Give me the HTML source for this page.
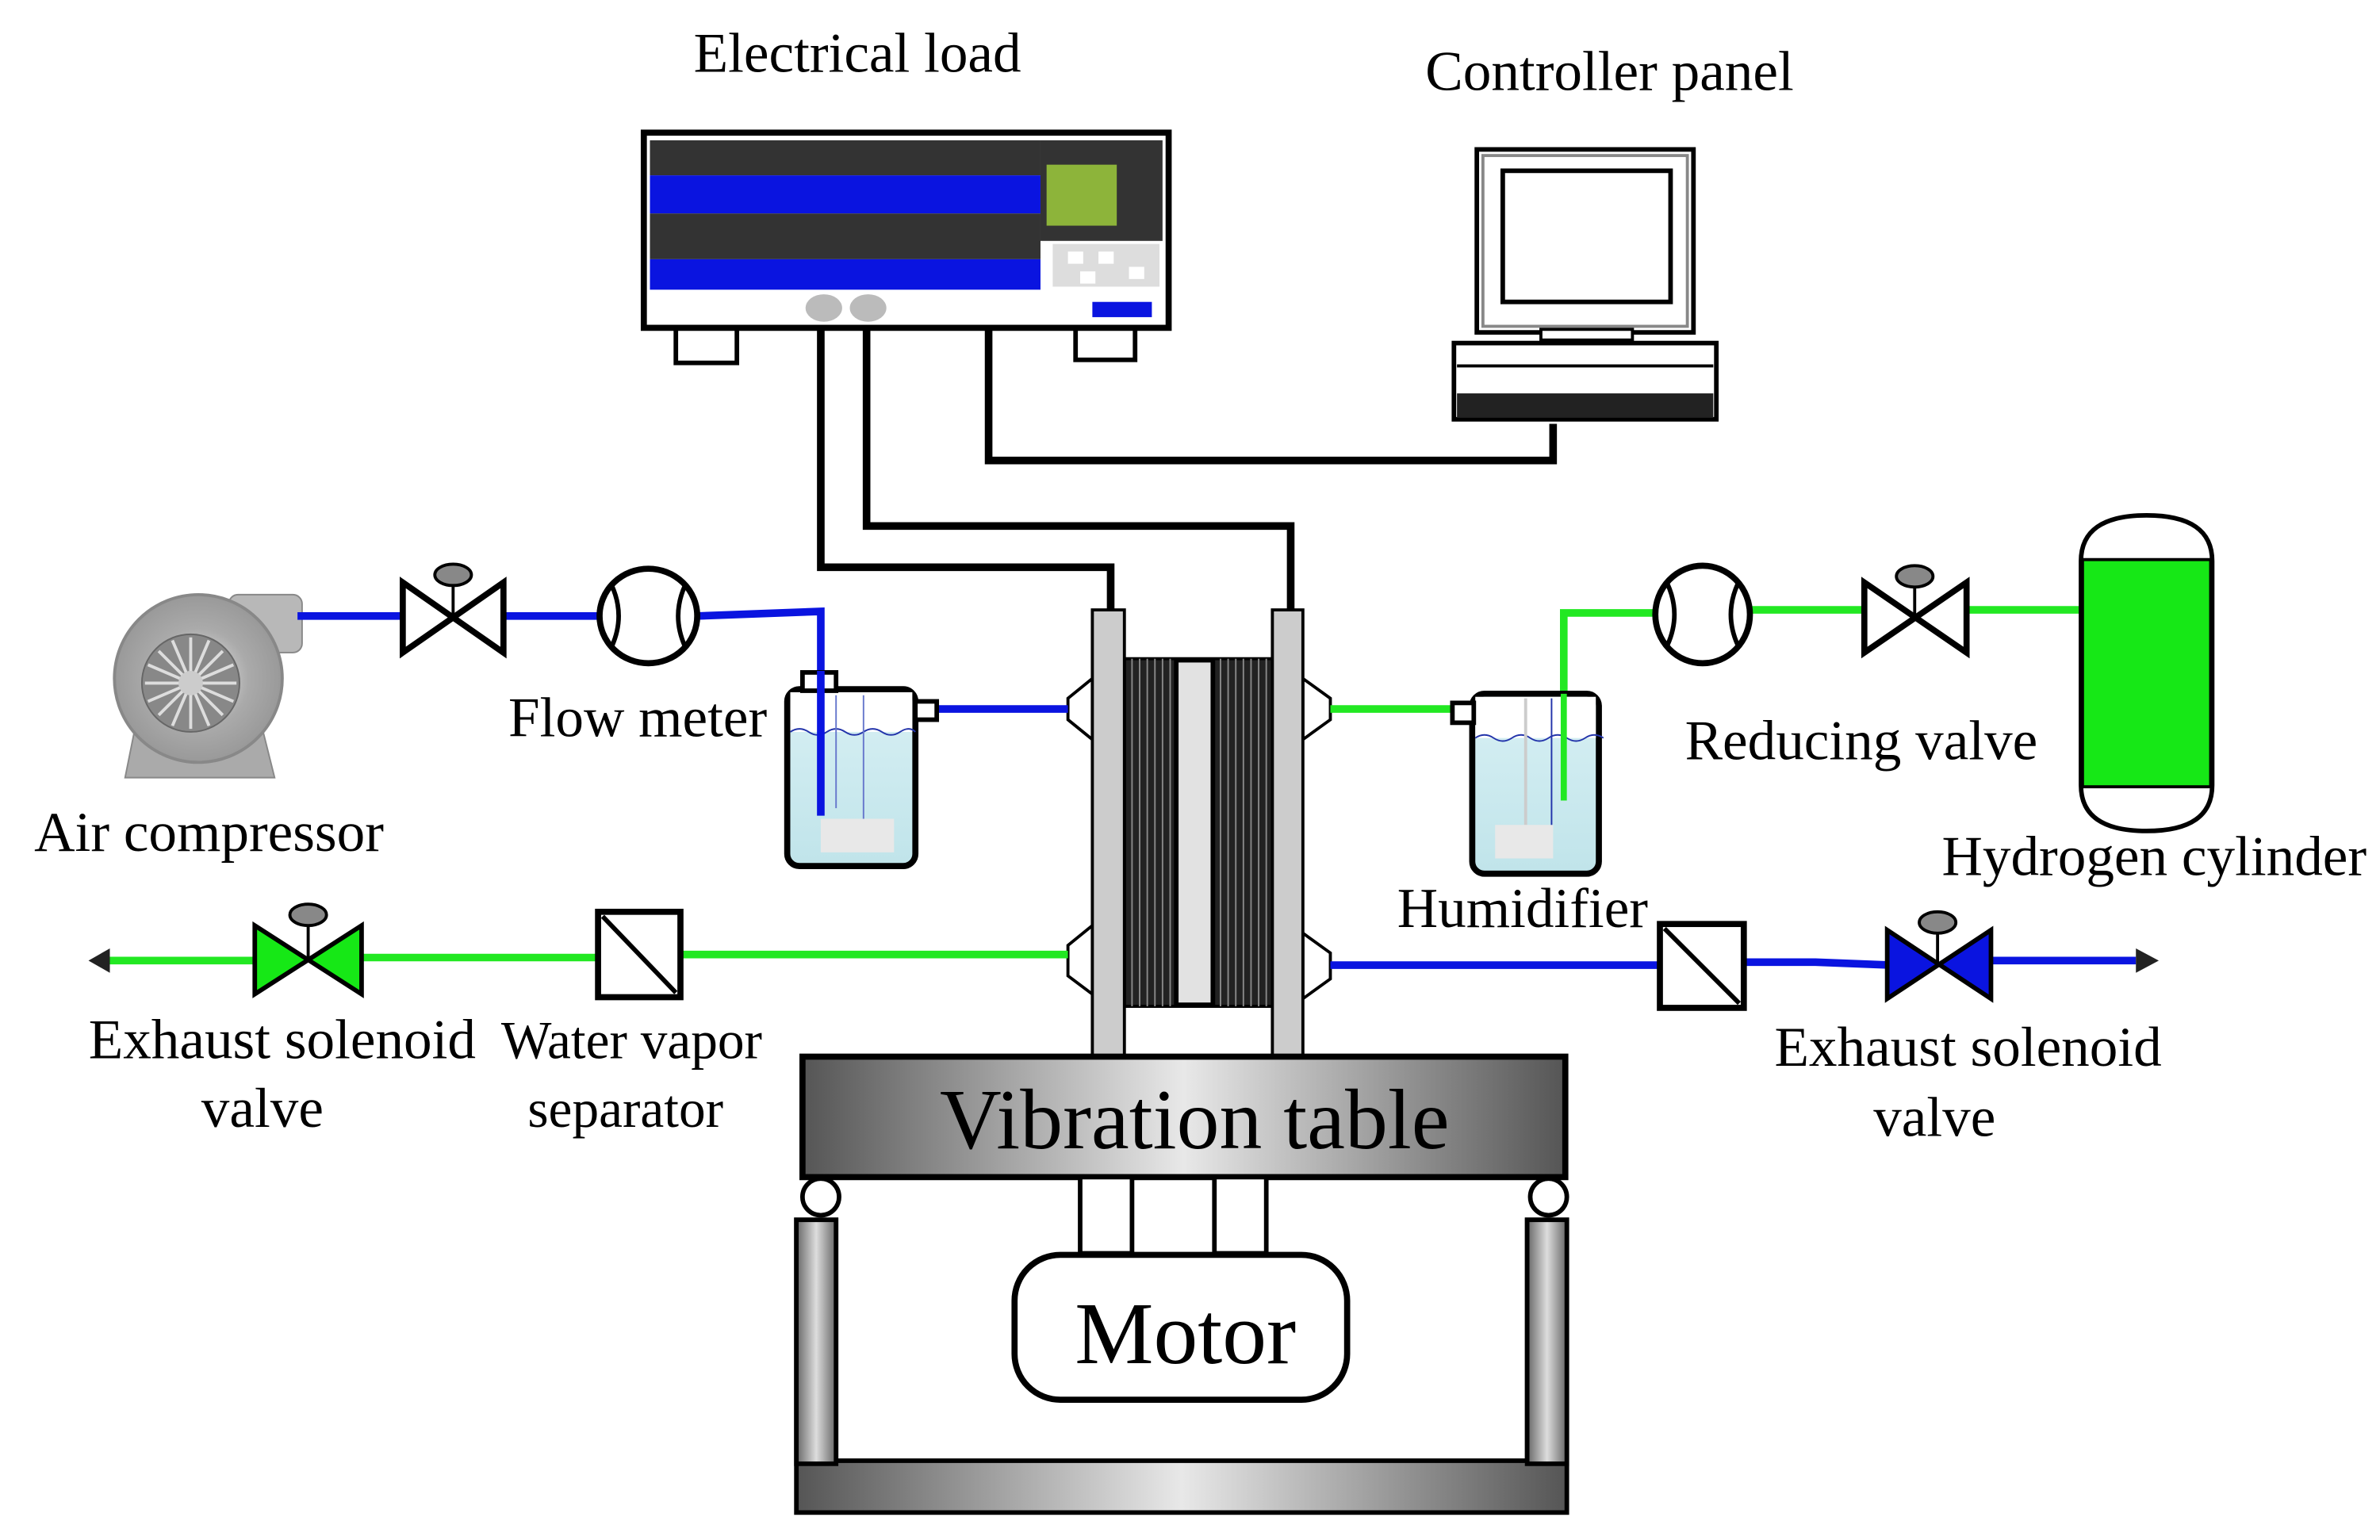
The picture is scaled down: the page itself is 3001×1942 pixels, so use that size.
<!DOCTYPE html>
<html><head><meta charset="utf-8"><style>
html,body{margin:0;padding:0;background:#fff;}
svg{display:block;}
text{font-family:"Liberation Serif",serif;fill:#000;}
</style></head><body>
<svg width="3001" height="1942" viewBox="0 0 1560 1010" preserveAspectRatio="none" xmlns="http://www.w3.org/2000/svg">
<defs>
<linearGradient id="gh" x1="0" y1="0" x2="1" y2="0">
<stop offset="0" stop-color="#555"/><stop offset="0.5" stop-color="#e8e8e8"/><stop offset="1" stop-color="#555"/></linearGradient>
<linearGradient id="gv" x1="0" y1="0" x2="1" y2="0">
<stop offset="0" stop-color="#666"/><stop offset="0.5" stop-color="#ddd"/><stop offset="1" stop-color="#666"/></linearGradient>
<linearGradient id="water" x1="0" y1="0" x2="0" y2="1">
<stop offset="0" stop-color="#d8f0f4"/><stop offset="1" stop-color="#c0e4ea"/></linearGradient>
<radialGradient id="comp" cx="0.5" cy="0.5" r="0.5"><stop offset="0" stop-color="#eee"/><stop offset="0.6" stop-color="#aaa"/><stop offset="1" stop-color="#999"/></radialGradient>
</defs>

<!-- Electrical load -->
<text x="562" y="47" font-size="37" text-anchor="middle">Electrical load</text>
<rect x="443" y="213" width="40" height="25" fill="#fff" stroke="#000" stroke-width="3"/>
<rect x="705" y="213" width="39" height="23" fill="#fff" stroke="#000" stroke-width="3"/>
<rect x="422" y="87" width="344" height="128" fill="#fff" stroke="#000" stroke-width="4"/>
<rect x="426" y="92" width="256" height="23" fill="#333"/>
<rect x="426" y="115" width="256" height="25" fill="#0a14e0"/>
<rect x="426" y="140" width="256" height="30" fill="#333"/>
<rect x="426" y="170" width="256" height="20" fill="#0a14e0"/>
<rect x="682" y="92" width="80" height="66" fill="#333"/>
<rect x="686" y="108" width="46" height="40" fill="#8db43a"/>
<rect x="690" y="160" width="70" height="28" fill="#ddd"/>
<rect x="700" y="165" width="10" height="8" fill="#fff"/><rect x="720" y="165" width="10" height="8" fill="#fff"/><rect x="740" y="175" width="10" height="8" fill="#fff"/><rect x="708" y="178" width="10" height="8" fill="#fff"/>
<rect x="716" y="198" width="39" height="10" fill="#0a14e0"/>
<ellipse cx="540" cy="202" rx="12" ry="9" fill="#bbb"/>
<ellipse cx="569" cy="202" rx="12" ry="9" fill="#bbb"/>

<!-- Controller panel -->
<text x="1055" y="59" font-size="37" text-anchor="middle">Controller panel</text>
<rect x="968" y="98" width="142" height="120" fill="#fff" stroke="#000" stroke-width="3"/>
<rect x="972" y="102" width="134" height="112" fill="none" stroke="#888" stroke-width="2"/>
<rect x="985" y="112" width="110" height="86" fill="#fff" stroke="#000" stroke-width="3"/>
<rect x="1010" y="216" width="60" height="7" fill="#fff" stroke="#000" stroke-width="2"/>
<rect x="953" y="225" width="172" height="50" fill="#fff" stroke="#000" stroke-width="3"/>
<line x1="955" y1="240" x2="1123" y2="240" stroke="#000" stroke-width="2"/>
<rect x="955" y="258" width="168" height="16" fill="#222"/>

<!-- wires -->
<g fill="none" stroke="#000" stroke-width="5">
<polyline points="538,215 538,372 728,372 728,402"/>
<polyline points="568,215 568,345 846,345 846,402"/>
<polyline points="648,215 648,302 1018,302 1018,278"/>
</g>

<!-- Stack ports -->
<g fill="#fff" stroke="#000" stroke-width="2">
<polygon points="716,445 700,458 700,472 716,485"/>
<polygon points="716,607 700,620 700,640 716,652"/>
<polygon points="854,445 872,458 872,472 854,485"/>
<polygon points="854,612 872,625 872,642 854,655"/>
</g>
<!-- Stack -->
<rect x="737" y="432" width="97" height="228" fill="#222" stroke="#000" stroke-width="2"/>
<g stroke="#888" stroke-width="1">
<line x1="742" y1="432" x2="742" y2="660"/><line x1="747" y1="432" x2="747" y2="660"/><line x1="752" y1="432" x2="752" y2="660"/><line x1="757" y1="432" x2="757" y2="660"/><line x1="762" y1="432" x2="762" y2="660"/><line x1="767" y1="432" x2="767" y2="660"/>
<line x1="800" y1="432" x2="800" y2="660"/><line x1="805" y1="432" x2="805" y2="660"/><line x1="810" y1="432" x2="810" y2="660"/><line x1="815" y1="432" x2="815" y2="660"/><line x1="820" y1="432" x2="820" y2="660"/><line x1="825" y1="432" x2="825" y2="660"/><line x1="830" y1="432" x2="830" y2="660"/>
</g>
<rect x="771" y="433" width="24" height="226" fill="#e2e2e2" stroke="#000" stroke-width="3"/>
<rect x="716" y="400" width="21" height="294" fill="#ccc" stroke="#000" stroke-width="2"/>
<rect x="834" y="400" width="20" height="294" fill="#ccc" stroke="#000" stroke-width="2"/>

<!-- Air compressor -->
<rect x="150" y="390" width="48" height="38" rx="6" fill="#b8b8b8" stroke="#888"/>
<path d="M82,510 L90,470 L170,470 L180,510 Z" fill="#aaa" stroke="#888"/>
<circle cx="130" cy="445" r="55" fill="url(#comp)" stroke="#888" stroke-width="2"/>
<circle cx="125" cy="448" r="32" fill="#888" stroke="#666"/>
<g stroke="#ddd" stroke-width="2">
<line x1="125" y1="418" x2="125" y2="478"/><line x1="95" y1="448" x2="155" y2="448"/><line x1="104" y1="427" x2="146" y2="469"/><line x1="104" y1="469" x2="146" y2="427"/>
<line x1="113" y1="420" x2="137" y2="476"/><line x1="137" y1="420" x2="113" y2="476"/><line x1="97" y1="436" x2="153" y2="460"/><line x1="97" y1="460" x2="153" y2="436"/>
</g>
<circle cx="125" cy="448" r="8" fill="#ccc"/>
<text x="137" y="558" font-size="37" text-anchor="middle">Air compressor</text>

<!-- Air line -->
<g fill="none" stroke="#0a14e0" stroke-width="5">
<line x1="195" y1="404" x2="264" y2="404"/>
<line x1="330" y1="404" x2="394" y2="404"/>
<polyline points="457,404 538,401 538,535"/>
<line x1="614" y1="465" x2="700" y2="465"/>
</g>
<polygon points="264,382 264,428 330,382 330,428" fill="#fff" stroke="#000" stroke-width="4"/>
<line x1="297" y1="380" x2="297" y2="405" stroke="#000" stroke-width="2"/>
<ellipse cx="297" cy="377" rx="12" ry="7" fill="#888" stroke="#000" stroke-width="2"/>
<ellipse cx="425" cy="404" rx="32" ry="31" fill="#fff" stroke="#000" stroke-width="4"/>
<path d="M401,384 Q410,404 401,424" fill="none" stroke="#000" stroke-width="3"/>
<path d="M449,384 Q440,404 449,424" fill="none" stroke="#000" stroke-width="3"/>
<text x="418" y="483" font-size="37" text-anchor="middle">Flow meter</text>

<!-- Humidifier left -->
<rect x="516" y="452" width="84" height="116" rx="8" fill="url(#water)" stroke="#000" stroke-width="4"/>
<rect x="518" y="454" width="80" height="26" fill="#fff"/>
<path d="M518,480 q6,-4 12,0 t12,0 t12,0 t12,0 t12,0 t12,0 t10,0" fill="none" stroke="#2233aa" stroke-width="1"/>
<rect x="526" y="441" width="22" height="12" fill="#fff" stroke="#000" stroke-width="3"/>
<line x1="548" y1="456" x2="548" y2="530" stroke="#6677cc" stroke-width="1"/>
<line x1="566" y1="456" x2="566" y2="540" stroke="#6677cc" stroke-width="1"/>
<rect x="538" y="537" width="48" height="22" fill="#e8e8e8"/>
<line x1="538" y1="440" x2="538" y2="535" stroke="#0a14e0" stroke-width="5"/>
<rect x="600" y="460" width="14" height="12" fill="#fff" stroke="#000" stroke-width="3"/>

<!-- Right H2 line -->
<g fill="none" stroke="#22e822" stroke-width="5">
<line x1="872" y1="465" x2="955" y2="465"/>
<polyline points="1025,525 1025,402 1086,402"/>
<line x1="1147" y1="400" x2="1222" y2="400"/>
<line x1="1289" y1="400" x2="1365" y2="400"/>
</g>
<rect x="965" y="455" width="83" height="118" rx="8" fill="url(#water)" stroke="#000" stroke-width="4"/>
<rect x="967" y="457" width="79" height="27" fill="#fff"/>
<path d="M967,484 q6,-4 12,0 t12,0 t12,0 t12,0 t12,0 t12,0 t12,0" fill="none" stroke="#2233aa" stroke-width="1"/>
<line x1="1000" y1="458" x2="1000" y2="545" stroke="#ccc" stroke-width="2"/>
<line x1="1017" y1="458" x2="1017" y2="545" stroke="#2233aa" stroke-width="1"/>
<rect x="980" y="541" width="38" height="22" fill="#e8e8e8"/>
<line x1="1025" y1="455" x2="1025" y2="525" stroke="#22e822" stroke-width="4"/>
<rect x="952" y="461" width="14" height="13" fill="#fff" stroke="#000" stroke-width="3"/>
<text x="998" y="608" font-size="37" text-anchor="middle">Humidifier</text>
<ellipse cx="1116" cy="403" rx="31" ry="32" fill="#fff" stroke="#000" stroke-width="4"/>
<path d="M1093,383 Q1102,403 1093,423" fill="none" stroke="#000" stroke-width="3"/>
<path d="M1139,383 Q1130,403 1139,423" fill="none" stroke="#000" stroke-width="3"/>
<polygon points="1222,382 1222,428 1289,382 1289,428" fill="#fff" stroke="#000" stroke-width="4"/>
<line x1="1255" y1="382" x2="1255" y2="405" stroke="#000" stroke-width="2"/>
<ellipse cx="1255" cy="378" rx="12" ry="7" fill="#888" stroke="#000" stroke-width="2"/>
<text x="1220" y="498" font-size="37" text-anchor="middle">Reducing valve</text>
<path d="M1364,368 Q1364,338 1407,338 Q1450,338 1450,368 L1450,515 Q1450,545 1407,545 Q1364,545 1364,515 Z" fill="#fff" stroke="#000" stroke-width="3"/>
<rect x="1365" y="367" width="84" height="149" fill="#16e816" stroke="#000" stroke-width="2"/>
<text x="1412" y="574" font-size="37" text-anchor="middle">Hydrogen cylinder</text>

<!-- Bottom left exhaust -->
<g fill="none" stroke="#22e822" stroke-width="5">
<line x1="446" y1="626" x2="700" y2="626"/>
<line x1="237" y1="628" x2="392" y2="628"/>
<line x1="72" y1="630" x2="167" y2="630"/>
</g>
<polygon points="58,630 72,622 72,638" fill="#222"/>
<rect x="392" y="598" width="54" height="56" fill="#fff" stroke="#000" stroke-width="4"/>
<line x1="395" y1="601" x2="443" y2="651" stroke="#000" stroke-width="3"/>
<polygon points="167,607 167,652 237,607 237,652" fill="#16e816" stroke="#000" stroke-width="3"/>
<line x1="202" y1="604" x2="202" y2="630" stroke="#000" stroke-width="2"/>
<ellipse cx="202" cy="600" rx="12" ry="7" fill="#888" stroke="#000" stroke-width="2"/>
<text x="185" y="694" font-size="37" text-anchor="middle">Exhaust solenoid</text>
<text x="172" y="739" font-size="37" text-anchor="middle">valve</text>
<text x="414" y="694" font-size="35" text-anchor="middle">Water vapor</text>
<text x="410" y="739" font-size="35" text-anchor="middle">separator</text>

<!-- Bottom right exhaust -->
<g fill="none" stroke="#0a14e0" stroke-width="5">
<line x1="872" y1="633" x2="1088" y2="633"/>
<polyline points="1143,631 1190,631 1240,633"/>
<line x1="1303" y1="630" x2="1400" y2="630"/>
</g>
<polygon points="1415,630 1400,622 1400,638" fill="#222"/>
<rect x="1088" y="606" width="55" height="55" fill="#fff" stroke="#000" stroke-width="4"/>
<line x1="1091" y1="609" x2="1140" y2="658" stroke="#000" stroke-width="3"/>
<polygon points="1237,610 1237,655 1305,610 1305,655" fill="#0a14e0" stroke="#000" stroke-width="3"/>
<line x1="1270" y1="608" x2="1270" y2="632" stroke="#000" stroke-width="2"/>
<ellipse cx="1270" cy="605" rx="12" ry="7" fill="#888" stroke="#000" stroke-width="2"/>
<text x="1290" y="699" font-size="37" text-anchor="middle">Exhaust solenoid</text>
<text x="1268" y="745" font-size="37" text-anchor="middle">valve</text>

<!-- Vibration table -->
<rect x="526" y="693" width="500" height="79" fill="url(#gh)" stroke="#000" stroke-width="4"/>
<text x="783" y="753" font-size="56" text-anchor="middle">Vibration table</text>
<rect x="708" y="772" width="34" height="50" fill="#fff" stroke="#000" stroke-width="3"/>
<rect x="796" y="772" width="34" height="50" fill="#fff" stroke="#000" stroke-width="3"/>
<rect x="665" y="823" width="218" height="95" rx="30" fill="#fff" stroke="#000" stroke-width="4"/>
<text x="777" y="894" font-size="58" text-anchor="middle">Motor</text>
<path d="M522,800 L548,800 L548,958 L1001,958 L1001,800 L1027,800 L1027,992 L522,992 Z" fill="url(#gh)" stroke="#000" stroke-width="3"/>
<rect x="522" y="800" width="26" height="160" fill="url(#gv)" stroke="#000" stroke-width="3"/>
<rect x="1001" y="800" width="26" height="160" fill="url(#gv)" stroke="#000" stroke-width="3"/>
<circle cx="538" cy="785" r="12" fill="#fff" stroke="#000" stroke-width="3"/>
<circle cx="1015" cy="785" r="12" fill="#fff" stroke="#000" stroke-width="3"/>
</svg>
</body></html>
